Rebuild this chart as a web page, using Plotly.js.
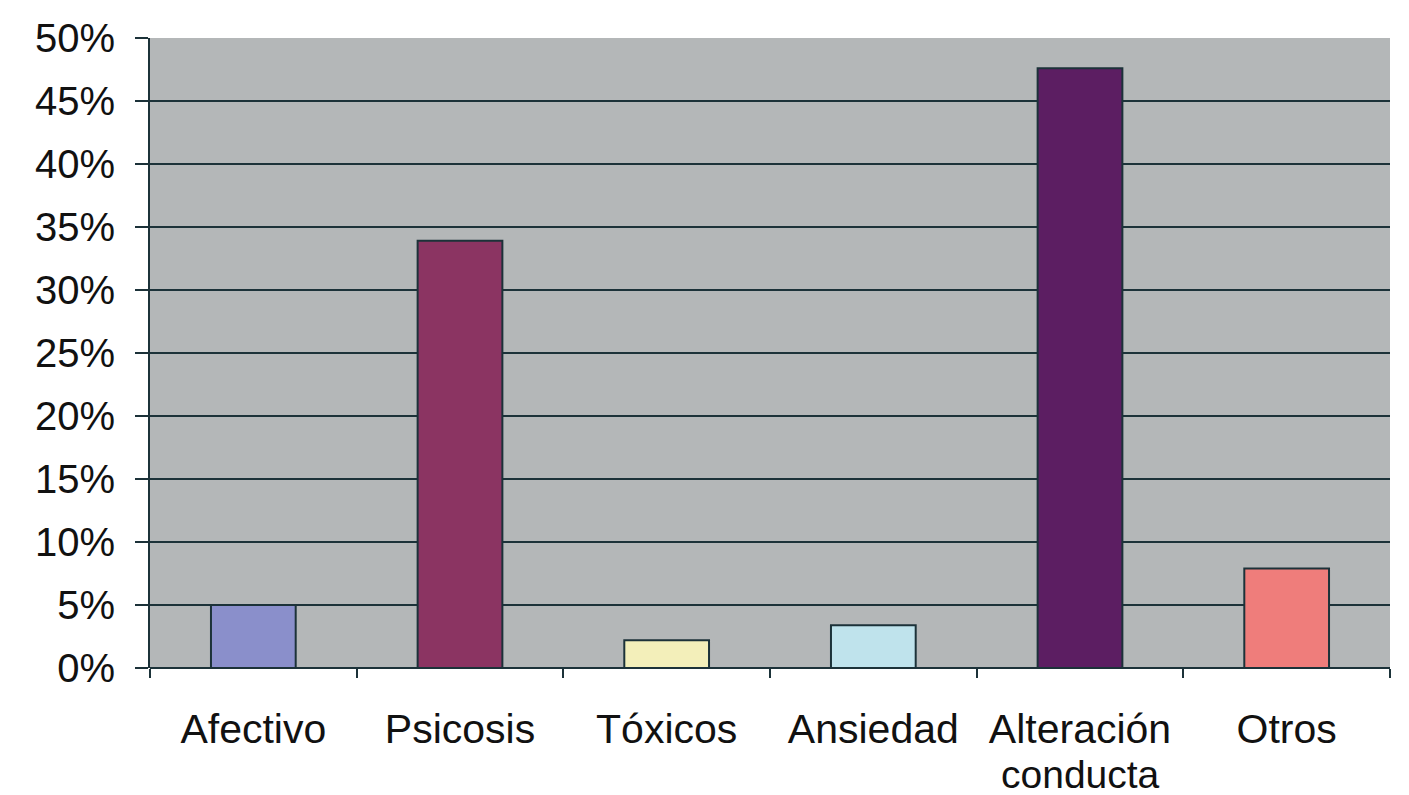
<!DOCTYPE html>
<html>
<head>
<meta charset="utf-8">
<script src="https://cdn.plot.ly/plotly-3.0.1.min.js"></script>
<style>html,body{margin:0;padding:0;background:#fff;}#chart{width:1409px;height:795px;}</style>
</head>
<body>
<div id="chart"></div>
<script>
const categories = ["Afectivo", "Psicosis", "Tóxicos", "Ansiedad", "Alteración conducta", "Otros"];
const tickFirstLine = ["Afectivo", "Psicosis", "Tóxicos", "Ansiedad", "Alteración", "Otros"];
const tickSecondLine = ["", "", "", "", "conducta", ""];
const values = [5.0, 33.9, 2.2, 3.4, 47.6, 7.9];
const barColors = ["#8a8fcb", "#8b3462", "#f3efba", "#bfe3ec", "#5c1e62", "#ef7d7b"];
const yTickVals = [0, 5, 10, 15, 20, 25, 30, 35, 40, 45, 50];
const yTickText = ["0%", "5%", "10%", "15%", "20%", "25%", "30%", "35%", "40%", "45%", "50%"];

const lineCol = "#1c3239";
const trace = {
  type: "bar",
  x: categories,
  y: values,
  marker: {color: barColors, line: {color: lineCol, width: 2}},
  width: 0.41,
  hoverinfo: "skip"
};
const annotations = [];
categories.forEach((c, i) => {
  if (tickSecondLine[i]) {
    annotations.push({
      x: c, y: 0, xref: "x", yref: "y",
      text: tickSecondLine[i], showarrow: false,
      xanchor: "center", yanchor: "top", yshift: -84, borderpad: 0,
      font: {size: 39, color: "#111111"}
    });
  }
});
const layout = {
  width: 1409, height: 795,
  margin: {l: 150, r: 19, t: 38, b: 127},
  paper_bgcolor: "#ffffff",
  plot_bgcolor: "#b4b7b8",
  showlegend: false,
  font: {family: "'Liberation Sans', Arial, sans-serif", color: "#111111", size: 41},
  annotations: annotations,
  xaxis: {
    type: "category",
    range: [-0.5, 5.5],
    tickson: "boundaries",
    tickmode: "array", tickvals: categories, ticktext: tickFirstLine,
    ticks: "outside", ticklen: 9, tickwidth: 2, tickcolor: lineCol,
    showgrid: false,
    showline: false,
    tickfont: {size: 41},
    ticklabelstandoff: 33,
    fixedrange: true
  },
  yaxis: {
    range: [0, 50],
    tickvals: yTickVals, ticktext: yTickText,
    ticks: "outside", ticklen: 13, tickwidth: 2, tickcolor: lineCol,
    showgrid: true, gridcolor: lineCol, gridwidth: 2,
    zeroline: true, zerolinecolor: lineCol, zerolinewidth: 2,
    showline: true, linecolor: lineCol, linewidth: 2,
    tickfont: {size: 40},
    ticklabelstandoff: 12,
    fixedrange: true
  }
};
Plotly.newPlot("chart", [trace], layout, {displayModeBar: false, staticPlot: true});
</script>
</body>
</html>
